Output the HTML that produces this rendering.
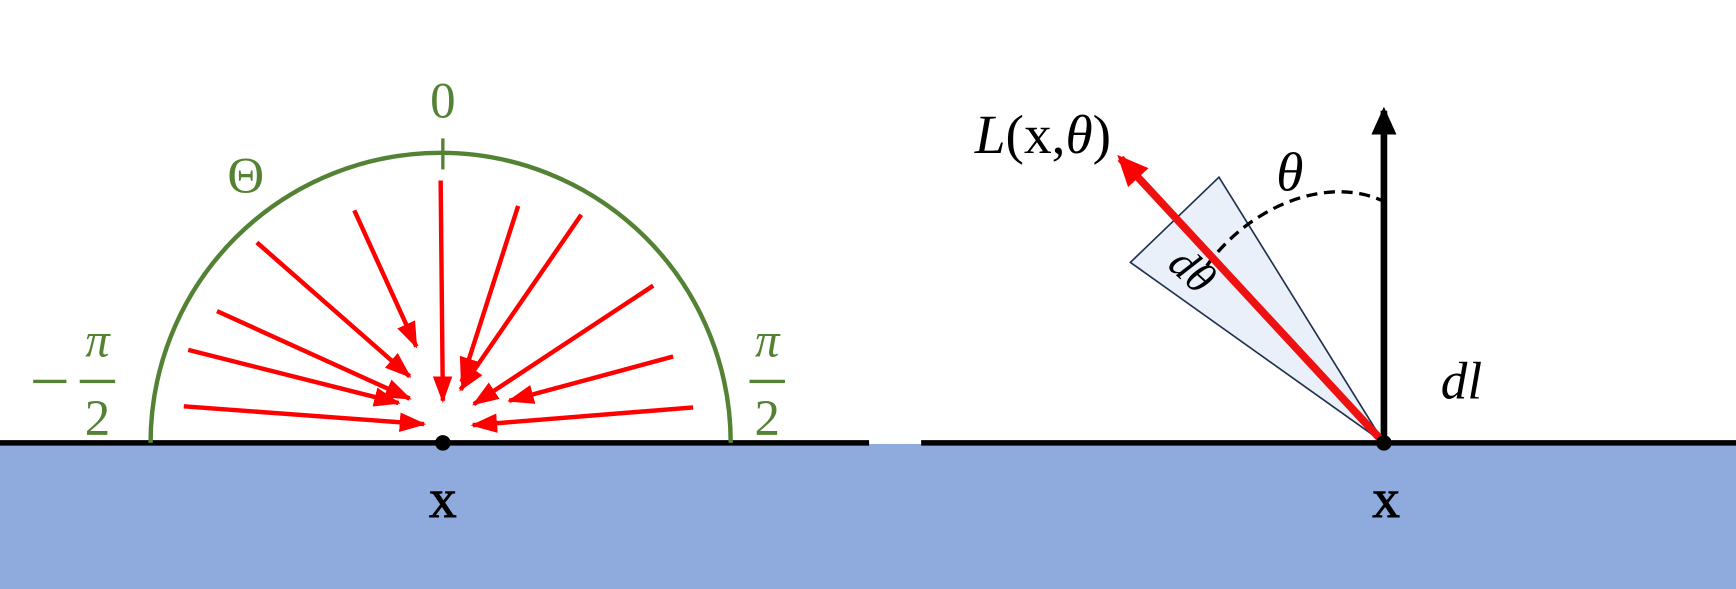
<!DOCTYPE html>
<html><head><meta charset="utf-8"><style>
html,body{margin:0;padding:0;background:#fff;}
svg{display:block;}
text{font-family:"Liberation Serif","DejaVu Serif",serif;}
</style></head><body>
<svg width="1736" height="589" viewBox="0 0 1568 532" xmlns="http://www.w3.org/2000/svg">
<defs>
<marker id="ah" markerWidth="6" markerHeight="4.4" refX="5.5" refY="2.2" orient="auto" markerUnits="strokeWidth"><path d="M0,0 L6,2.2 L0,4.4 Z" fill="#ff0000"/></marker>
<marker id="ahb" markerWidth="4.2" markerHeight="3.8" refX="3.6" refY="1.9" orient="auto" markerUnits="strokeWidth"><path d="M0,0 L4.2,1.9 L0,3.8 Z" fill="#000"/></marker>
<marker id="ahr" markerWidth="4" markerHeight="3.6" refX="3.4" refY="1.8" orient="auto" markerUnits="strokeWidth"><path d="M0,0 L4,1.8 L0,3.6 Z" fill="#ff0000"/></marker>
</defs>
<rect x="0" y="401" width="1568" height="131" fill="#8faadc"/>
<line x1="0" y1="400" x2="785" y2="400" stroke="#000" stroke-width="5"/>
<line x1="832" y1="400" x2="1568" y2="400" stroke="#000" stroke-width="5"/>
<path d="M136,400 A262,262 0 0 1 660,400" fill="none" stroke="#548235" stroke-width="4"/>
<line x1="400" y1="125" x2="400" y2="153" stroke="#548235" stroke-width="3"/>
<text x="400" y="106" font-size="46" fill="#548235" text-anchor="middle">0</text>
<text x="222" y="174" font-size="46" fill="#548235" text-anchor="middle">Θ</text>
<g fill="#548235">
<rect x="30" y="343" width="30" height="3"/>
<text x="88" y="322" font-size="44" font-style="italic" text-anchor="middle">π</text>
<rect x="72" y="343" width="32" height="3"/>
<text x="88" y="393" font-size="46" text-anchor="middle">2</text>
</g>
<g fill="#548235">
<text x="693" y="322" font-size="44" font-style="italic" text-anchor="middle">π</text>
<rect x="677" y="343" width="32" height="3"/>
<text x="693" y="393" font-size="46" text-anchor="middle">2</text>
</g>
<g stroke="#ff0000" stroke-width="4" marker-end="url(#ah)">
<line x1="398" y1="163" x2="400" y2="362"/>
<line x1="320" y1="190" x2="376" y2="313"/>
<line x1="232" y1="219" x2="370" y2="340"/>
<line x1="196" y1="281" x2="370" y2="360"/>
<line x1="170" y1="316" x2="360" y2="364"/>
<line x1="166" y1="367" x2="383" y2="383"/>
<line x1="468" y1="186" x2="417" y2="345"/>
<line x1="525" y1="194" x2="416" y2="352"/>
<line x1="590" y1="258" x2="428" y2="365"/>
<line x1="608" y1="322" x2="460" y2="362"/>
<line x1="626" y1="368" x2="427" y2="384"/>
</g>
<circle cx="400" cy="400" r="7" fill="#000"/>
<text x="400" y="467" font-size="50" text-anchor="middle" stroke="#000" stroke-width="0.8">x</text>
<polygon points="1250,400 1021,237 1101,160" fill="#eaf0f9" stroke="#1f3050" stroke-width="1.5"/>
<path d="M1090,240 C1130,185 1200,158 1250,182" fill="none" stroke="#000" stroke-width="3" stroke-dasharray="10,6"/>
<line x1="1250" y1="400" x2="1250" y2="100" stroke="#000" stroke-width="6" marker-end="url(#ahb)"/>
<line x1="1250" y1="400" x2="1012" y2="143" stroke="#ee1111" stroke-width="7" marker-end="url(#ahr)"/>
<circle cx="1250" cy="400" r="7" fill="#000"/>
<text x="1252" y="467" font-size="50" text-anchor="middle" stroke="#000" stroke-width="0.8">x</text>
<text x="942" y="138" font-size="50" text-anchor="middle"><tspan font-style="italic">L</tspan>(x,<tspan font-style="italic">θ</tspan>)</text>
<text x="1165" y="172" font-size="50" font-style="italic" text-anchor="middle">θ</text>
<text x="0" y="0" font-size="40" font-style="italic" text-anchor="middle" transform="translate(1068,254) rotate(42)">dθ</text>
<text x="1320" y="360" font-size="48" font-style="italic" text-anchor="middle">dl</text>
</svg>
</body></html>
